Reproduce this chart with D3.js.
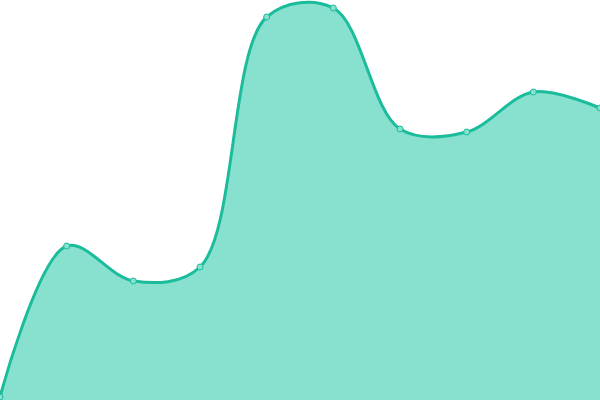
<!DOCTYPE html>
<html>
<head>
<meta charset="utf-8">
<script src="https://cdn.jsdelivr.net/npm/d3@7"></script>
<style>
  html, body { margin: 0; padding: 0; background: #fff; }
  svg { display: block; }
</style>
</head>
<body>
<svg id="chart"></svg>
<script>
const WIDTH = 600;
const HEIGHT = 400;

// one value per point, left to right
const labels = ["1", "2", "3", "4", "5", "6", "7", "8", "9", "10"];
const values = [3, 154, 119, 133, 383, 392, 271, 268, 308, 292];

const svg = d3.select("#chart")
  .attr("width", WIDTH)
  .attr("height", HEIGHT);

const x = d3.scalePoint()
  .domain(labels)
  .range([0, WIDTH]);

const y = d3.scaleLinear()
  .domain([0, 400])
  .range([HEIGHT, 0]);

const data = labels.map((l, i) => ({ label: l, value: values[i] }));

const curve = d3.curveCatmullRom.alpha(0.5);

const area = d3.area()
  .x(d => x(d.label))
  .y0(HEIGHT)
  .y1(d => y(d.value))
  .curve(curve);

const line = d3.line()
  .x(d => x(d.label))
  .y(d => y(d.value))
  .curve(curve);

svg.append("path")
  .datum(data)
  .attr("fill", "#88e0cf")
  .attr("d", area);

svg.append("path")
  .datum(data)
  .attr("fill", "none")
  .attr("stroke", "#1abc9c")
  .attr("stroke-width", 3)
  .attr("d", line);

svg.selectAll(".dot")
  .data(data)
  .enter()
  .append("circle")
  .attr("class", "dot")
  .attr("cx", d => x(d.label))
  .attr("cy", d => y(d.value))
  .attr("r", 3)
  .attr("fill", "#88e0cf")
  .attr("stroke", "#1abc9c")
  .attr("stroke-width", 1);
</script>
</body>
</html>
